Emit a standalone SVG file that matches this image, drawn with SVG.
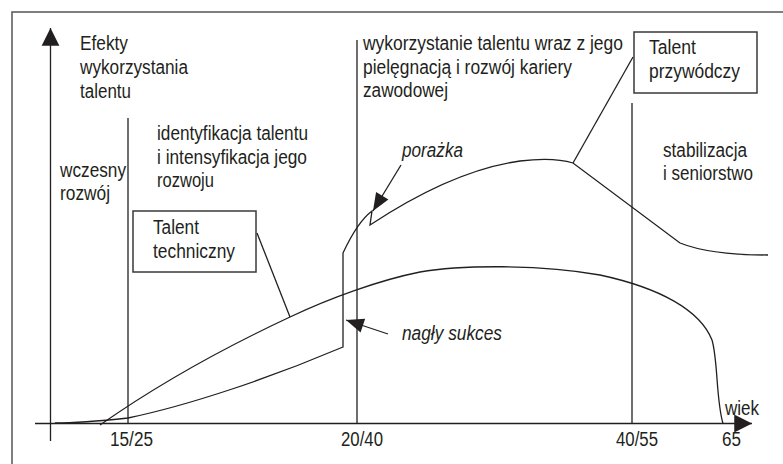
<svg xmlns="http://www.w3.org/2000/svg" width="783" height="464" viewBox="0 0 783 464">
<style>
.ln{fill:none;stroke:#231f20;stroke-width:1.3}
.bx{fill:#fff;stroke:#3a3a3a;stroke-width:1.5}
text{font-family:"Liberation Sans",Arial,sans-serif;font-size:20px;fill:#231f20}
.it{font-style:italic}
</style>
<defs>
<marker id="ah" markerUnits="userSpaceOnUse" markerWidth="20" markerHeight="20" viewBox="-17 -9 18 18" refX="0" refY="0" orient="auto"><path d="M0,0 L-16,-8 L-16,8 Z" fill="#231f20"/></marker>
<marker id="as" markerUnits="userSpaceOnUse" markerWidth="20" markerHeight="20" viewBox="-17 -9 18 18" refX="0" refY="0" orient="auto"><path d="M0,0 L-16,-6.5 L-16,6.5 Z" fill="#231f20"/></marker>
</defs>
<rect x="12" y="12" width="800" height="500" fill="#fff" stroke="#555" stroke-width="1.5"/>
<g id="axes">
<line class="ln" x1="50.5" y1="441" x2="50.5" y2="28" marker-end="url(#ah)"/>
<line class="ln" x1="35" y1="423.5" x2="752" y2="423.5" marker-end="url(#ah)"/>
<line class="ln" x1="128" y1="118" x2="128" y2="423.5"/>
<line class="ln" x1="357" y1="40" x2="357" y2="423.5"/>
<line class="ln" x1="632" y1="103" x2="632" y2="423.5"/>
</g>
<g id="connectors">
<path id="curve-techniczny" class="ln" d="M100,425 C160,383 230,345 290,317 C330,298 380,280 420,272 C460,265 540,264 600,275 C660,288 700,310 712,340 C718,360 716,400 723,423.5"/>
<path id="curve-przywodczy" class="ln" d="M55,423 C80,423 100,421 128,418 C190,405 270,378 343,347 L343,253 C350,238 360,220 372,211 L370,225 C420,192 470,168 520,161 C545,158 560,159 573,163 L680,243 C700,251 730,255 768,255"/>
<line class="ln" x1="257" y1="233" x2="290" y2="317"/>
<line class="ln" x1="633" y1="57" x2="573" y2="163"/>
<line class="ln" x1="401" y1="165" x2="373" y2="211" marker-end="url(#as)"/>
<line class="ln" x1="388" y1="334" x2="346" y2="320" marker-end="url(#as)"/>
</g>
<g id="label-y">
<text x="80" y="50" textLength="48" lengthAdjust="spacingAndGlyphs">Efekty</text>
<text x="80" y="74" textLength="108" lengthAdjust="spacingAndGlyphs">wykorzystania</text>
<text x="80" y="98" textLength="51" lengthAdjust="spacingAndGlyphs">talentu</text>
</g>
<g id="phase-1">
<text x="60" y="177" textLength="66" lengthAdjust="spacingAndGlyphs">wczesny</text>
<text x="60" y="200" textLength="50" lengthAdjust="spacingAndGlyphs">rozwój</text>
</g>
<g id="phase-2">
<text x="157" y="140" textLength="151" lengthAdjust="spacingAndGlyphs">identyfikacja talentu</text>
<text x="157" y="164" textLength="150" lengthAdjust="spacingAndGlyphs">i intensyfikacja jego</text>
<text x="157" y="187" textLength="57" lengthAdjust="spacingAndGlyphs">rozwoju</text>
</g>
<g id="phase-3">
<text x="363" y="50" textLength="260" lengthAdjust="spacingAndGlyphs">wykorzystanie talentu wraz z jego</text>
<text x="363" y="74" textLength="209" lengthAdjust="spacingAndGlyphs">pielęgnacją i rozwój kariery</text>
<text x="363" y="97" textLength="85" lengthAdjust="spacingAndGlyphs">zawodowej</text>
</g>
<g id="phase-4">
<text x="663" y="157" textLength="84" lengthAdjust="spacingAndGlyphs">stabilizacja</text>
<text x="663" y="180" textLength="90" lengthAdjust="spacingAndGlyphs">i seniorstwo</text>
</g>
<g id="box-przywodczy">
<rect class="bx" x="634" y="32" width="123" height="61"/>
<text x="649" y="54" textLength="47" lengthAdjust="spacingAndGlyphs">Talent</text>
<text x="649" y="78" textLength="91" lengthAdjust="spacingAndGlyphs">przywódczy</text>
</g>
<g id="box-techniczny">
<rect class="bx" x="133" y="211" width="123" height="61"/>
<text x="153" y="234" textLength="46" lengthAdjust="spacingAndGlyphs">Talent</text>
<text x="153" y="258" textLength="82" lengthAdjust="spacingAndGlyphs">techniczny</text>
</g>
<g id="label-porazka"><text class="it" x="402" y="157" textLength="61" lengthAdjust="spacingAndGlyphs">porażka</text></g>
<g id="label-sukces"><text class="it" x="402" y="340" textLength="100" lengthAdjust="spacingAndGlyphs">nagły sukces</text></g>
<g id="ticks">
<text x="725" y="415" textLength="34" lengthAdjust="spacingAndGlyphs">wiek</text>
<text x="110" y="446" textLength="43" lengthAdjust="spacingAndGlyphs">15/25</text>
<text x="341" y="446" textLength="42" lengthAdjust="spacingAndGlyphs">20/40</text>
<text x="616" y="446" textLength="42" lengthAdjust="spacingAndGlyphs">40/55</text>
<text x="722" y="446" textLength="19" lengthAdjust="spacingAndGlyphs">65</text>
</g>
</svg>
